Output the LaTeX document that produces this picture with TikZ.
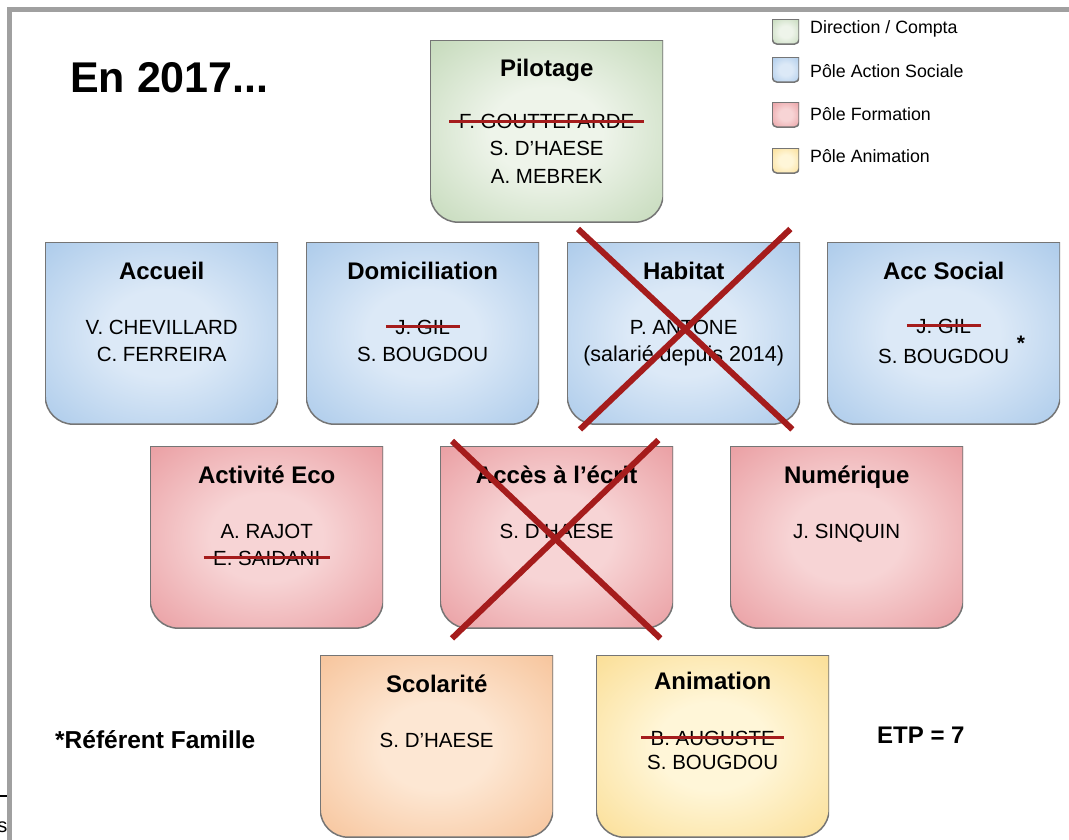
\documentclass[tikz,border=0pt]{standalone}
\usepackage{fontspec}
\setmainfont{Liberation Sans}
\usepackage{tikz}
\usepackage{xcolor}

\definecolor{framegray}{HTML}{A0A0A0}
\definecolor{boxline}{HTML}{757575}
\definecolor{crossred}{HTML}{A51C1C}
\definecolor{greenin}{HTML}{EEF4EA}
\definecolor{greenout}{HTML}{ACCA9E}
\definecolor{bluein}{HTML}{DCE9F7}
\definecolor{blueout}{HTML}{90B9E3}
\definecolor{redin}{HTML}{F7D4D5}
\definecolor{redout}{HTML}{E27E84}
\definecolor{orangein}{HTML}{FDE7D3}
\definecolor{orangeout}{HTML}{F3AF7A}
\definecolor{yellowin}{HTML}{FFF6D8}
\definecolor{yellowout}{HTML}{F8D06E}
\colorlet{boxin}{white}
\colorlet{boxout}{white}
\pgfdeclareradialshading[boxin,boxout]{softradial}{\pgfpoint{0bp}{0bp}}{color(0bp)=(boxin); color(12bp)=(boxin); color(50bp)=(boxout); color(75bp)=(boxout)}

\tikzset{
  roundfill/.style n args={3}{path picture={\colorlet{boxin}{#1}\colorlet{boxout}{#2}
    \shade[shading=softradial, draw=boxline, line width=1.5pt]
      (path picture bounding box.north west) -- (path picture bounding box.north east)
      -- ([yshift=#3]path picture bounding box.south east) arc[start angle=0, end angle=-90, radius=#3]
      -- ([xshift=#3]path picture bounding box.south west) arc[start angle=270, end angle=180, radius=#3]
      -- cycle;}},
  orgbox/.style 2 args={roundfill={#1}{#2}{28pt}, anchor=north west, inner sep=0pt, minimum width=233pt, minimum height=182pt},
  keybox/.style 2 args={roundfill={#1}{#2}{5pt}, anchor=north west, inner sep=0pt, minimum width=27pt, minimum height=25pt},
  keytext/.style={anchor=base west, inner sep=0pt, font=\fontsize{17.8}{20}\selectfont},
  heading/.style={anchor=base, font=\fontsize{24}{28}\selectfont\bfseries},
  person/.style={anchor=base, font=\fontsize{20.5}{24}\selectfont},
  strikeout/.style={draw=crossred, line width=3pt},
  crossout/.style={draw=crossred, line width=6pt},
}

\begin{document}
\begin{tikzpicture}[x=1pt,y=-1pt]
    \useasboundingbox (0,0) rectangle (1069,840);
    \fill[framegray] (7,7) rectangle (1069,12);
    \fill[framegray] (7,7) rectangle (12,840);
    \draw[line width=1.5pt] (0,796) -- (7,796);
    \node[anchor=base east, inner sep=0pt, font=\fontsize{20}{24}\selectfont] (cut) at (7.5,832) {s};

    \node[anchor=base west, inner sep=0pt, font=\fontsize{43}{50}\selectfont\bfseries] (year) at (70,93) {En 2017...};

    \node[keybox={greenin}{greenout}] (keyDir) at (772,19) {};
    \node[keytext] (keyDirText) at (810,34) {Direction / Compta};
    \node[keybox={bluein}{blueout}] (keySoc) at (772,57) {};
    \node[keytext] (keySocText) at (810,78) {Pôle Action Sociale};
    \node[keybox={redin}{redout}] (keyForm) at (772,102) {};
    \node[keytext] (keyFormText) at (810,121) {Pôle Formation};
    \node[keybox={yellowin}{yellowout}] (keyAnim) at (772,148) {};
    \node[keytext] (keyAnimText) at (810,163) {Pôle Animation};

    \node[orgbox={greenin}{greenout}] (pilot) at (430,40) {};
    \node[heading] (pilotTitle) at ([yshift=-37pt]pilot.north) {Pilotage};
    \node[person] (pilotA) at ([yshift=-89pt]pilot.north) {F. GOUTTEFARDE};
    \node[person] (pilotB) at ([yshift=-116pt]pilot.north) {S. D'HAESE};
    \node[person] (pilotC) at ([yshift=-143pt]pilot.north) {A. MEBREK};
    \draw[strikeout] ([xshift=-6pt]pilotA.west) -- ([xshift=6pt]pilotA.east);

    \node[orgbox={bluein}{blueout}] (accueil) at (45,242) {};
    \node[heading] (accueilTitle) at ([yshift=-37pt]accueil.north) {Accueil};
    \node[person] (accueilA) at ([yshift=-92pt]accueil.north) {V. CHEVILLARD};
    \node[person] (accueilB) at ([yshift=-119pt]accueil.north) {C. FERREIRA};

    \node[orgbox={bluein}{blueout}] (domic) at (306,242) {};
    \node[heading] (domicTitle) at ([yshift=-37pt]domic.north) {Domiciliation};
    \node[person] (domicA) at ([yshift=-92pt]domic.north) {J. GIL};
    \node[person] (domicB) at ([yshift=-119pt]domic.north) {S. BOUGDOU};
    \draw[strikeout] ([xshift=-6pt]domicA.west) -- ([xshift=6pt]domicA.east);

    \node[orgbox={bluein}{blueout}] (habitat) at (567,242) {};
    \node[heading] (habitatTitle) at ([yshift=-37pt]habitat.north) {Habitat};
    \node[person] (habitatA) at ([yshift=-92pt]habitat.north) {P. ANTONE};
    \node[person, font=\fontsize{21.5}{24}\selectfont] (habitatB) at ([yshift=-119pt]habitat.north) {(salarié depuis 2014)};
    \draw[crossout] ([shift={(11pt,13pt)}]habitat.north west) -- ([shift={(-8pt,-5pt)}]habitat.south east);
    \draw[crossout] ([shift={(-10pt,13pt)}]habitat.north east) -- ([shift={(13pt,-5pt)}]habitat.south west);

    \node[orgbox={bluein}{blueout}] (accsocial) at (827,242) {};
    \node[heading] (accsocialTitle) at ([yshift=-37pt]accsocial.north) {Acc Social};
    \node[person] (accsocialA) at ([yshift=-91pt]accsocial.north) {J. GIL};
    \node[person] (accsocialB) at ([yshift=-121pt]accsocial.north) {S. BOUGDOU};
    \node[inner sep=0pt, font=\fontsize{21}{24}\selectfont\bfseries] (accsocialStar) at (1021,343) {*};
    \draw[strikeout] ([xshift=-6pt]accsocialA.west) -- ([xshift=6pt]accsocialA.east);

    \node[orgbox={redin}{redout}] (actieco) at (150,446) {};
    \node[heading] (actiecoTitle) at ([yshift=-37pt]actieco.north) {Activité Eco};
    \node[person] (actiecoA) at ([yshift=-92pt]actieco.north) {A. RAJOT};
    \node[person] (actiecoB) at ([yshift=-119pt]actieco.north) {E. SAIDANI};
    \draw[strikeout] ([xshift=-6pt]actiecoB.west) -- ([xshift=6pt]actiecoB.east);

    \node[orgbox={redin}{redout}] (acces) at (440,446) {};
    \node[heading] (accesTitle) at ([yshift=-37pt]acces.north) {Accès à l'écrit};
    \node[person] (accesA) at ([yshift=-92pt]acces.north) {S. D'HAESE};
    \draw[crossout] ([shift={(12pt,5pt)}]acces.north west) -- ([shift={(-13pt,-10pt)}]acces.south east);
    \draw[crossout] ([shift={(-15pt,6pt)}]acces.north east) -- ([shift={(12pt,-10pt)}]acces.south west);

    \node[orgbox={redin}{redout}] (numerique) at (730,446) {};
    \node[heading] (numeriqueTitle) at ([yshift=-37pt]numerique.north) {Numérique};
    \node[person] (numeriqueA) at ([yshift=-92pt]numerique.north) {J. SINQUIN};

    \node[orgbox={orangein}{orangeout}] (scol) at (320,655) {};
    \node[heading] (scolTitle) at ([yshift=-37pt]scol.north) {Scolarité};
    \node[person] (scolA) at ([yshift=-92pt]scol.north) {S. D'HAESE};

    \node[orgbox={yellowin}{yellowout}] (anim) at (596,655) {};
    \node[heading] (animTitle) at ([yshift=-34pt]anim.north) {Animation};
    \node[person] (animA) at ([yshift=-90pt]anim.north) {B. AUGUSTE};
    \node[person] (animB) at ([yshift=-114pt]anim.north) {S. BOUGDOU};
    \draw[strikeout] ([xshift=-6pt]animA.west) -- ([xshift=6pt]animA.east);

    \node[anchor=base west, inner sep=0pt, font=\fontsize{24.5}{28}\selectfont\bfseries] (famille) at (55,748) {*Référent Famille};
    \node[anchor=base west, inner sep=0pt, font=\fontsize{24}{28}\selectfont\bfseries] (etp) at (877,743) {ETP = 7};
\end{tikzpicture}
\end{document}
